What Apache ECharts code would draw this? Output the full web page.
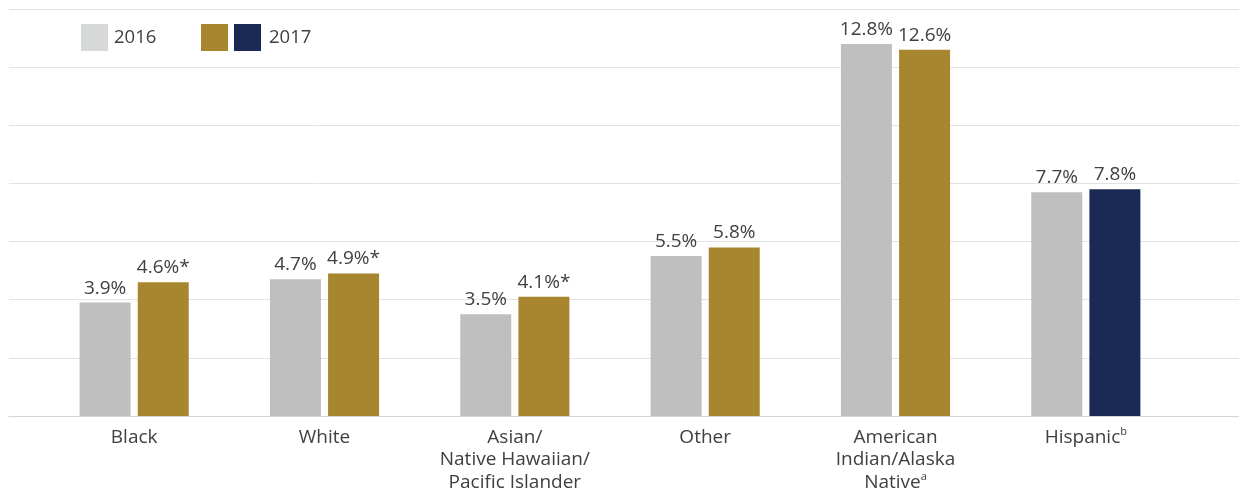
<!DOCTYPE html>
<html><head><meta charset="utf-8">
<script src="https://cdn.jsdelivr.net/npm/echarts@6/dist/echarts.min.js"></script>
<style>html,body{margin:0;padding:0;background:#fff}#c{width:1239px;height:496px}</style>
</head><body><div id="c"></div>
<script>
const categories = ['Black', 'White', 'Asian/\nNative Hawaiian/\nPacific Islander', 'Other', 'American\nIndian/Alaska\nNative{sup|a}', 'Hispanic{sup|b}'];
const values2016 = [3.9, 4.7, 3.5, 5.5, 12.8, 7.7];
const values2017 = [4.6, 4.9, 4.1, 5.8, 12.6, 7.8];
const significant2017 = [true, true, true, false, false, false];
const colorKey2017 = ['gold', 'gold', 'gold', 'gold', 'gold', 'navy'];
const legendLabels = ['2016', '2017'];
const yMin = 0, yMax = 14, yInterval = 2;

const FONT = '"Open Sans", "Noto Sans", sans-serif';
const TXT = '#404040';
const palette = { gray: '#bfbfbf', gold: '#a8862f', navy: '#1b2a55', legendGray: '#d7d8da' };

const chart = echarts.init(document.getElementById('c'));
const valueLabel = {
  show: true, position: 'top', distance: 5, color: TXT, fontFamily: FONT, fontSize: 19
};
chart.setOption({
  animation: false,
  grid: [
    { left: 9, right: 0, top: 9, bottom: 80 },
    { left: 39, width: 1142, top: 9, bottom: 80 }
  ],
  xAxis: [
    { gridIndex: 0, type: 'category', data: [''], axisLabel: { show: false }, axisTick: { show: false },
      axisLine: { show: true, lineStyle: { color: '#d4d4d4', width: 1 } } },
    { gridIndex: 1, type: 'category', data: categories, axisTick: { show: false }, axisLine: { show: false },
      axisLabel: { color: TXT, fontFamily: FONT, fontSize: 19, lineHeight: 22.5, margin: 10, interval: 0,
        rich: { sup: { fontSize: 11, fontFamily: FONT, color: TXT, verticalAlign: 'top', lineHeight: 16 } } } }
  ],
  yAxis: [
    { gridIndex: 0, type: 'value', min: yMin, max: yMax, interval: yInterval,
      axisLabel: { show: false }, axisLine: { show: false }, axisTick: { show: false },
      splitLine: { lineStyle: { color: '#e3e3e3', width: 1 } } },
    { gridIndex: 1, type: 'value', min: yMin, max: yMax, interval: yInterval, show: false, splitLine: { show: false } }
  ],
  series: [
    { name: legendLabels[0], type: 'bar', xAxisIndex: 1, yAxisIndex: 1, data: values2016,
      barWidth: 51, barGap: '14%', itemStyle: { color: palette.gray },
      label: Object.assign({}, valueLabel, { formatter: p => p.value.toFixed(1) + '%' }) },
    { name: legendLabels[1], type: 'bar', xAxisIndex: 1, yAxisIndex: 1,
      data: values2017.map((v, i) => ({ value: v, itemStyle: { color: palette[colorKey2017[i]] } })),
      barWidth: 51, barGap: '14%',
      label: Object.assign({}, valueLabel, { formatter: p => p.value.toFixed(1) + '%' + (significant2017[p.dataIndex] ? '*' : '') }) }
  ],
  graphic: [
    { type: 'rect', left: 81, top: 24, shape: { width: 27, height: 27 }, style: { fill: palette.legendGray } },
    { type: 'text', left: 114, top: 28, style: { text: legendLabels[0], fill: TXT, font: '18.5px ' + FONT } },
    { type: 'rect', left: 201, top: 24, shape: { width: 27, height: 27 }, style: { fill: palette.gold } },
    { type: 'rect', left: 234, top: 24, shape: { width: 27, height: 27 }, style: { fill: palette.navy } },
    { type: 'text', left: 269, top: 28, style: { text: legendLabels[1], fill: TXT, font: '18.5px ' + FONT } }
  ]
});
</script></body></html>
